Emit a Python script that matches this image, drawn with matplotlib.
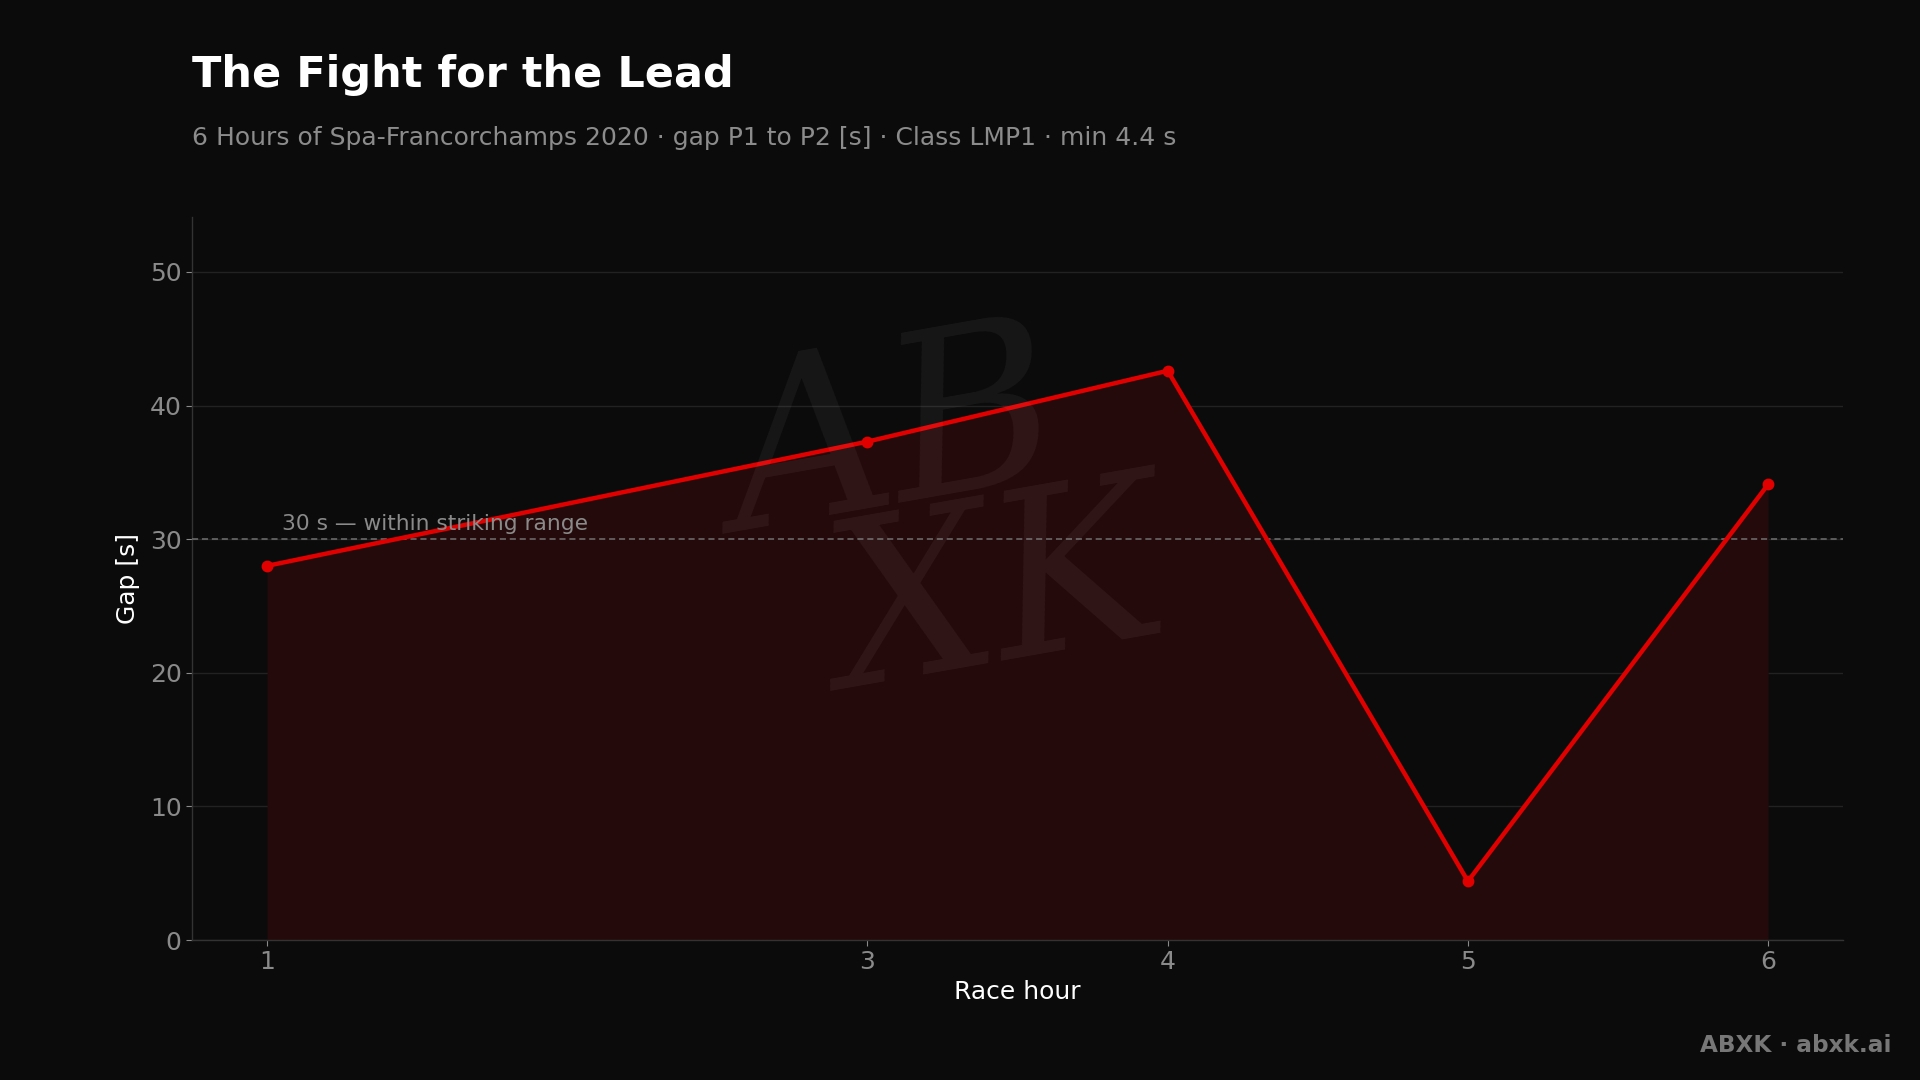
import matplotlib
matplotlib.use("Agg")
import matplotlib.pyplot as plt

# Data
hours = [1, 3, 4, 5, 6]
gap_s = [28.0, 37.3, 42.6, 4.4, 34.1]
threshold = 30
threshold_label = "30 s — within striking range"
yticks = [0, 10, 20, 30, 40, 50]

title = "The Fight for the Lead"
subtitle = "6 Hours of Spa-Francorchamps 2020 · gap P1 to P2 [s] · Class LMP1 · min 4.4 s"
xlabel = "Race hour"
ylabel = "Gap [s]"
footer = "ABXK · abxk.ai"

BG = "#0b0b0b"
RED = "#e00000"
FILL = "#250a0b"

plt.rcParams['font.family'] = ['DejaVu Sans']
fig = plt.figure(figsize=(19.2, 10.8), dpi=100, facecolor=BG)
ax = fig.add_axes([0.1, 0.1296, 0.86, 0.6694])
ax.set_facecolor(BG)

ax.fill_between(hours, gap_s, 0, color=FILL, zorder=1, linewidth=0)
ax.plot(hours, gap_s, color=RED, linewidth=3.2, marker='o', markersize=7.5, zorder=4)

ax.axhline(threshold, color="#707070", linestyle=(0, (4, 2.5)), linewidth=1.1, zorder=3)
ax.text(1.05, threshold + 0.35, threshold_label, color="#8a8a8a", fontsize=15.7,
        ha='left', va='bottom', zorder=5)

ax.set_xlim(0.75, 6.25)
ax.set_ylim(0, 54.1)
ax.set_xticks(hours)
ax.set_xticklabels([str(h) for h in hours])
ax.set_yticks(yticks)

ax.grid(axis='y', color="#222222", linewidth=1.0, zorder=0)
ax.grid(axis='x', visible=False)
ax.set_axisbelow(True)

for s in ['top', 'right']:
    ax.spines[s].set_visible(False)
for s in ['left', 'bottom']:
    ax.spines[s].set_color("#333333")
    ax.spines[s].set_linewidth(1.0)

ax.tick_params(colors="#8a8a8a", labelsize=18, length=4, width=0.8)
ax.tick_params(axis='x', pad=3.5)
ax.set_xlabel(xlabel, color="white", fontsize=18, labelpad=4)
ax.set_ylabel(ylabel, color="white", fontsize=18, labelpad=7)

# watermark
fig.text(0.465, 0.59, "AB", fontsize=165, style='italic', color="white", alpha=0.05,
         ha='center', va='center', rotation=10, family='DejaVu Serif')
fig.text(0.52, 0.445, "XK", fontsize=165, style='italic', color="white", alpha=0.05,
         ha='center', va='center', rotation=10, family='DejaVu Serif')

fig.text(0.1, 0.931, title, color="white", fontsize=31, fontweight='bold', ha='left', va='center')
fig.text(0.1, 0.872, subtitle, color="#8c8c8c", fontsize=18, ha='left', va='center')
fig.text(0.985, 0.032, footer, color="#777777", fontsize=16.7, fontweight='bold', ha='right', va='center')

fig.savefig("out.png", dpi=100, facecolor=BG)
